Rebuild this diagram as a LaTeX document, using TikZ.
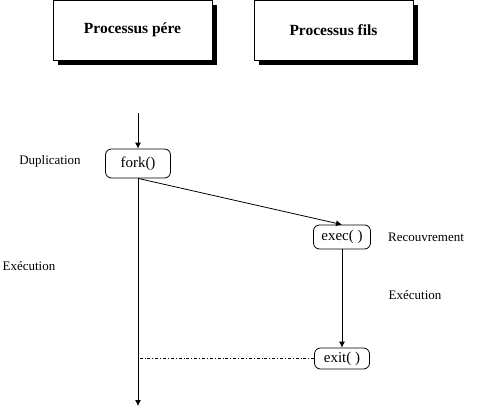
\documentclass[tikz,border=0pt]{standalone}
\usepackage{fontspec}
\setmainfont{Liberation Serif}
\usetikzlibrary{arrows.meta}

\begin{document}
\begin{tikzpicture}[x=1pt, y=-1pt, line width=0.8pt,
  titre/.style={draw, fill=white, minimum width=159pt, minimum height=60pt,
    font=\fontsize{15.5}{18}\selectfont\bfseries},
  ombre/.style={fill=black},
  appel/.style={draw, rounded corners=6pt, fill=white, inner sep=1pt,
    font=\fontsize{15}{17}\selectfont},
  texte/.style={font=\fontsize{13}{15}\selectfont},
  fleche/.style={-{Latex[length=6pt,width=6pt]}}]

\useasboundingbox (0,0) rectangle (482,407);

% ---- processus -------------------------------------------------------------
\fill[ombre] (58,5) rectangle (217,65);
\fill[ombre] (259,5) rectangle (418,65);
\node[titre] (pere) at (132.5,30) {Processus pére};
\node[titre] (fils) at (333.5,30) {Processus fils};

% ---- appels systeme --------------------------------------------------------
\coordinate (debut) at (138,113);
\coordinate (fin) at (138,406);
\node[appel, minimum width=65pt, minimum height=29pt] (fork) at (138,163.5) {fork()};
\node[appel, minimum width=57pt, minimum height=24pt] (exec) at (342,237) {exec( )};
\node[appel, minimum width=55pt, minimum height=21pt] (exit) at (342,358.5) {exit( )};

% ---- liens -----------------------------------------------------------------
\draw[fleche] (debut) -- (fork.north);
\draw[fleche] (fork.south) -- (fin);
\draw[fleche] (fork.south) -- (exec.north);
\draw[fleche] (exec.south) -- (exit.north);
\draw[dash dot] (exit.west) -- (exit.west -| fork.south);

% ---- annotations -----------------------------------------------------------
\node[texte] (dup) at (50,161) {Duplication};
\node[texte] (execpere) at (29,266) {Exécution};
\node[texte] (recouv) at (426,237) {Recouvrement};
\node[texte] (execfils) at (415,295) {Exécution};

\end{tikzpicture}
\end{document}
